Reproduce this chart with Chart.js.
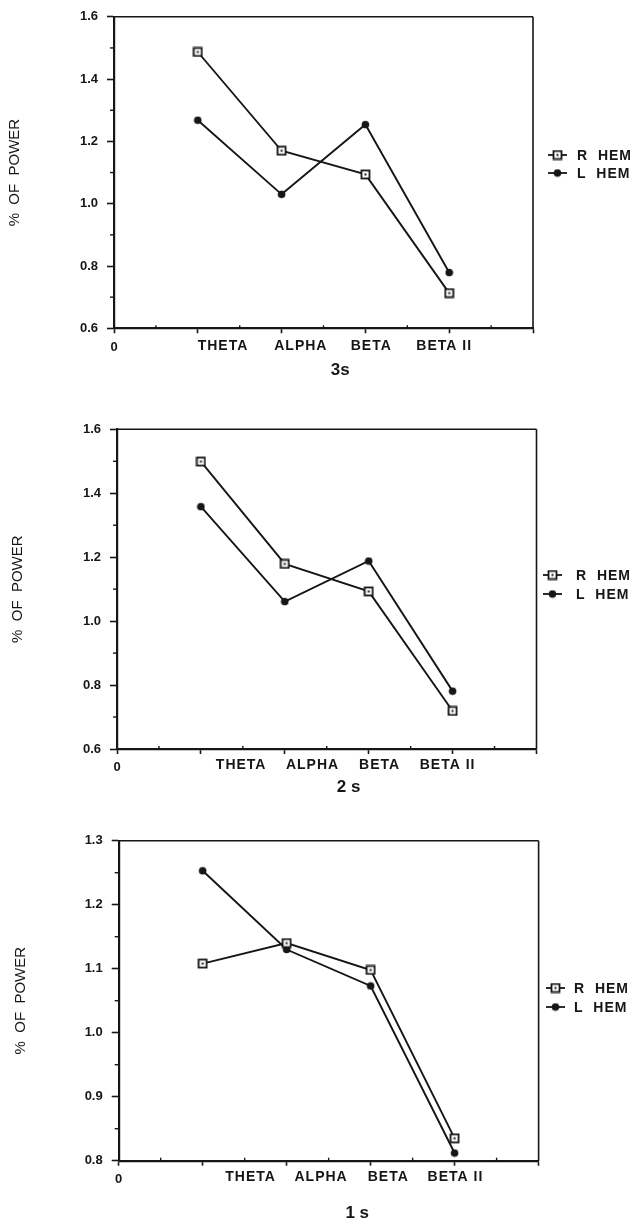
<!DOCTYPE html>
<html>
<head>
<meta charset="utf-8">
<script src="https://cdn.jsdelivr.net/npm/chart.js@4.4.1/dist/chart.umd.min.js"></script>
<style>
body{margin:0;background:#fff;width:637px;height:1223px;position:relative;overflow:hidden}
canvas{position:absolute;left:0}
</style>
</head>
<body>
<canvas id="c3s" width="637" height="410" style="top:0"></canvas>
<canvas id="c2s" width="637" height="410" style="top:410px"></canvas>
<canvas id="c1s" width="637" height="403" style="top:820px"></canvas>
<script>
// data
const categories = ['THETA', 'ALPHA', 'BETA', 'BETA II'];
const seriesNames = ['R  HEM', 'L  HEM'];

const rHem3s = [1.487, 1.170, 1.094, 0.713];
const lHem3s = [1.268, 1.030, 1.254, 0.779];
const rHem2s = [1.499, 1.179, 1.093, 0.719];
const lHem2s = [1.358, 1.061, 1.188, 0.781];
const rHem1s = [1.108, 1.140, 1.098, 0.835];
const lHem1s = [1.253, 1.130, 1.073, 0.812];

// [min, max, labelled step]
const yRange3s = [0.6, 1.6, 0.2];
const yRange2s = [0.6, 1.6, 0.2];
const yRange1s = [0.8, 1.3, 0.1];
const xRange = [0, 5, 1];

const ink = '#161616';
const font = '"Liberation Sans", Arial, sans-serif';

// layout of each panel (canvas pixels)
const panels = [
  {id: 'c3s', h: 410, title: '3s', r: rHem3s, l: lHem3s, yr: yRange3s,
   area: {left: 114, right: 533, top: 10.7, bottom: 328.3},
   labelAt: [1.3, 2.23, 3.07, 3.94], labelDy: 18, titleAt: 2.70, titleDy: 42, yTitlePad: 6,
   legend: {x: 548, tx: 577, y: 155, gap: 18}},
  {id: 'c2s', h: 410, title: '2 s', r: rHem2s, l: lHem2s, yr: yRange2s,
   area: {left: 117, right: 536.5, top: 19.3, bottom: 339},
   labelAt: [1.48, 2.33, 3.13, 3.94], labelDy: 16, titleAt: 2.76, titleDy: 38.5, yTitlePad: 9,
   legend: {x: 543, tx: 576, y: 165, gap: 19}},
  {id: 'c1s', h: 403, title: '1 s', r: rHem1s, l: lHem1s, yr: yRange1s,
   area: {left: 118.7, right: 538.6, top: 20.7, bottom: 340.7},
   labelAt: [1.57, 2.41, 3.21, 4.01], labelDy: 16, titleAt: 2.84, titleDy: 53, yTitlePad: 12,
   legend: {x: 546, tx: 574, y: 168, gap: 19}}
];

function squareMark() {
  const c = document.createElement('canvas');
  c.width = c.height = 11;
  const g = c.getContext('2d');
  g.fillStyle = '#fff'; g.fillRect(1, 1, 9, 9);
  g.strokeStyle = ink; g.lineWidth = 1.8; g.strokeRect(1.5, 1.5, 8, 8);
  g.fillStyle = ink; g.fillRect(4.5, 4.5, 2, 2);
  return c;
}
function dotMark() {
  const c = document.createElement('canvas');
  c.width = c.height = 9;
  const g = c.getContext('2d');
  g.fillStyle = ink;
  g.beginPath(); g.arc(4.5, 4.5, 3.8, 0, Math.PI * 2); g.fill();
  return c;
}
const marks = [squareMark(), dotMark()];

const extras = {
  id: 'extras',
  afterDraw(chart) {
    const p = chart.config._config.panel;
    const {ctx, chartArea: a, scales: {x, y}} = chart;
    const line = (x1, y1, x2, y2) => { ctx.beginPath(); ctx.moveTo(x1, y1); ctx.lineTo(x2, y2); ctx.stroke(); };
    ctx.save();
    ctx.strokeStyle = ink;
    ctx.lineWidth = 1.6;
    line(a.left, a.top, a.right, a.top);
    line(a.right, a.top, a.right, a.bottom);
    // minor ticks
    ctx.lineWidth = 1.4;
    y.ticks.forEach((t, i) => { if (i % 2) { const py = y.getPixelForValue(t.value); line(a.left - 4, py, a.left, py); } });
    x.ticks.forEach((t, i) => { if (i % 2) { const px = x.getPixelForValue(t.value); line(px, a.bottom, px, a.bottom - 3); } });
    // category labels and panel title
    ctx.fillStyle = ink;
    ctx.textAlign = 'center';
    ctx.textBaseline = 'middle';
    ctx.font = 'bold 14px ' + font;
    ctx.letterSpacing = '1px';
    categories.forEach((c, i) => ctx.fillText(c, x.getPixelForValue(p.labelAt[i]), a.bottom + p.labelDy));
    ctx.letterSpacing = '0px';
    ctx.font = 'bold 17px ' + font;
    ctx.fillText(p.title, x.getPixelForValue(p.titleAt), a.bottom + p.titleDy);
    // legend
    const lg = p.legend;
    ctx.textAlign = 'left';
    ctx.font = 'bold 14px ' + font;
    ctx.letterSpacing = '1px';
    seriesNames.forEach((s, i) => {
      const ly = lg.y + i * lg.gap;
      ctx.lineWidth = 1.8;
      line(lg.x, ly, lg.x + 19, ly);
      ctx.drawImage(marks[i], lg.x + 9.5 - marks[i].width / 2, ly - marks[i].height / 2);
      ctx.fillText(s, lg.tx, ly + 1);
    });
    ctx.restore();
  }
};

panels.forEach(p => {
  const [ymin, ymax, ystep] = p.yr;
  const xH = 40;
  const cfg = {
    type: 'line',
    panel: p,
    data: {
      datasets: [p.r, p.l].map((vals, k) => ({
        label: seriesNames[k],
        data: vals.map((v, i) => ({x: i + 1, y: v})),
        borderColor: ink,
        borderWidth: 1.9,
        pointStyle: marks[k],
        pointRadius: 4,
        tension: 0
      }))
    },
    options: {
      responsive: false,
      animation: false,
      devicePixelRatio: 1,
      layout: {
        autoPadding: false,
        padding: {left: 0, right: 637 - p.area.right, top: p.area.top, bottom: p.h - p.area.bottom - xH}
      },
      plugins: {legend: {display: false}, tooltip: {enabled: false}},
      scales: {
        x: {
          type: 'linear',
          min: xRange[0], max: xRange[1],
          afterFit: s => { s.height = xH; },
          border: {color: ink, width: 2.2},
          grid: {drawOnChartArea: false, tickLength: 5, tickWidth: 1.6,
                 tickColor: c => c.index % 2 ? 'rgba(0,0,0,0)' : ink},
          ticks: {stepSize: xRange[2] / 2, autoSkip: false, padding: 6, color: ink,
                  font: {family: font, size: 13, weight: 'bold'},
                  callback: v => v === 0 ? '0' : ''}
        },
        y: {
          min: ymin, max: ymax,
          afterFit: s => { s.width = p.area.left; },
          border: {color: ink, width: 2.2},
          grid: {drawOnChartArea: false, tickLength: 7, tickWidth: 1.6,
                 tickColor: c => c.index % 2 ? 'rgba(0,0,0,0)' : ink},
          ticks: {stepSize: ystep / 2, autoSkip: false, padding: 9, color: ink,
                  font: {family: font, size: 13, weight: 'bold'},
                  callback: v => Math.round((v - ymin) / (ystep / 2)) % 2 ? '' : v.toFixed(1)},
          title: {display: true, text: '%  OF  POWER', color: ink,
                  font: {family: font, size: 15},
                  padding: {top: p.yTitlePad, bottom: 0}}
        }
      }
    },
    plugins: [extras]
  };
  new Chart(document.getElementById(p.id), cfg);
});
</script>
</body>
</html>
